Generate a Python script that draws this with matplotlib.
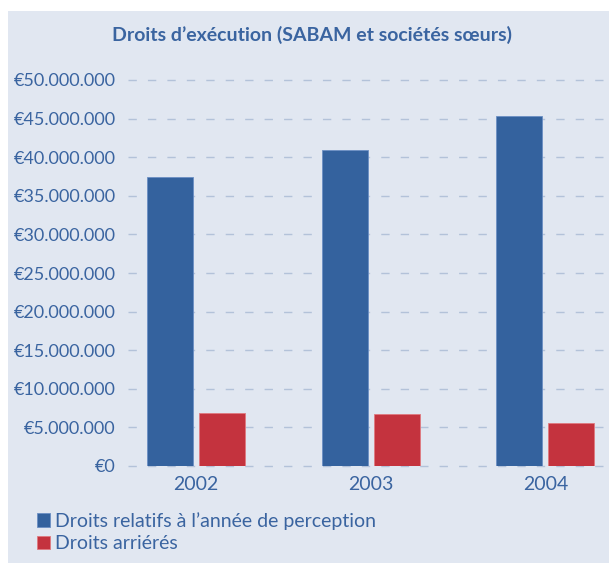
"""Droits d'exécution - bar chart"""

import matplotlib
matplotlib.use("Agg")
import matplotlib.pyplot as plt
from matplotlib.patches import Rectangle
from matplotlib.ticker import FuncFormatter

plt.rcParams["font.family"] = ["Lato", "DejaVu Sans"]

# ── data ──────────────────────────────────────────────
years = ["2002", "2003", "2004"]
droits_annee = [37_400_000, 40_900_000, 45_400_000]
droits_arrieres = [6_900_000, 6_800_000, 5_600_000]
series_labels = ["Droits relatifs à l’année de perception", "Droits arriérés"]

TEXT = "#3a64a0"
BLUE = "#34629e"
RED = "#c4333e"
BG = "#e1e7f1"
GRID = "#b3c2d9"

fig = plt.figure(figsize=(6.09, 5.63), dpi=100)
fig.patch.set_facecolor("white")
fig.add_artist(Rectangle((8 / 609, 0), 1, 1 - 11 / 563, transform=fig.transFigure,
                         facecolor=BG, edgecolor="none", zorder=-10))

ax = fig.add_axes([128 / 609, 1 - 466 / 563, 481 / 609, (466 - 80) / 563])
ax.set_facecolor("none")

x = range(len(years))
w = 46 / 175
gap = 6 / 175
ax.bar([i - (w + gap) / 2 for i in x], droits_annee, width=w, color=BLUE,
       edgecolor="#6b8fc4", linewidth=0.6, label=series_labels[0], zorder=3)
ax.bar([i + (w + gap) / 2 for i in x], droits_arrieres, width=w, color=RED,
       edgecolor="#e07a80", linewidth=0.6, label=series_labels[1], zorder=3)

ax.set_xlim(-0.386, 2.363)
ax.set_ylim(0, 50_000_000)
ax.set_yticks(range(0, 50_000_001, 5_000_000))
ax.yaxis.set_major_formatter(FuncFormatter(lambda v, _: "€" + f"{int(v):,}".replace(",", ".")))
ax.set_xticks(list(x))
ax.set_xticklabels(years)
ax.tick_params(length=0, colors=TEXT)
ax.tick_params(axis="y", labelsize=13, pad=9)
ax.tick_params(axis="x", labelsize=14, pad=7)
for s in ax.spines.values():
    s.set_visible(False)
ax.grid(axis="y", color=GRID, linestyle=(0, (6, 8)), linewidth=1, zorder=1, clip_on=False)

fig.text(312 / 609, 1 - 35 / 563, "Droits d’exécution (SABAM et sociétés sœurs)",
         ha="center", va="center", fontsize=14, fontweight="bold", color=TEXT)

fig.legend(loc="upper left", bbox_to_anchor=(29 / 609, 1 - 504 / 563), frameon=False,
           fontsize=14, labelcolor=TEXT, handlelength=0.7, handleheight=0.7,
           handletextpad=0.25, labelspacing=0.3, borderaxespad=0)

fig.savefig("out.png", dpi=100)
